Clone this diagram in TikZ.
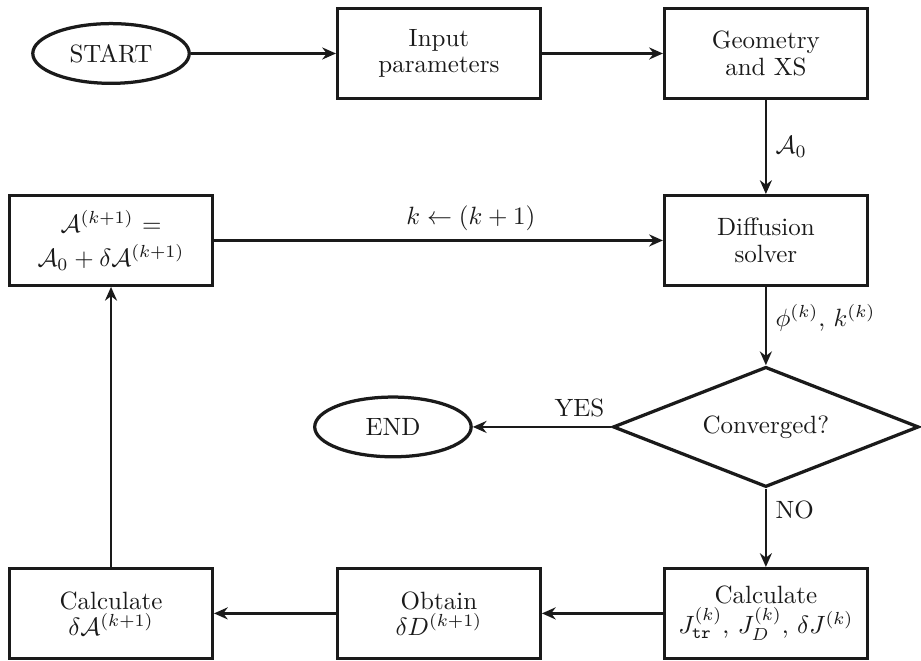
\documentclass[tikz,border=0pt]{standalone}
\usepackage{amsmath,amssymb}
\usepackage{xcolor}
\usepackage{tikz}
\usetikzlibrary{shapes.geometric,arrows.meta}
\definecolor{ink}{HTML}{1A1A1A}
\tikzset{
  block/.style={draw=ink, text=ink, line width=1.3pt, rectangle, minimum width=2.85cm, minimum height=1.26cm, align=center, inner sep=2pt, font=\fontsize{10}{10.5}\selectfont},
  term/.style={draw=ink, text=ink, line width=1.3pt, ellipse, minimum width=2.2cm, minimum height=0.84cm},
  decide/.style={draw=ink, text=ink, line width=1.3pt, diamond, aspect=2.5, minimum width=4.3cm, minimum height=1.69cm, inner sep=0pt},
  flow/.style={draw=ink, line width=1.1pt, -{Stealth[length=5.5pt,width=4.8pt]}},
  lbl/.style={text=ink, font=\normalsize}
}

\begin{document}
\begin{tikzpicture}
  \useasboundingbox (0,0) rectangle (12.95,-9.293);

  % top row
  \node[term] (start) at (1.561,-0.752) {START};
  \node[block] (input) at (6.172,-0.752) {Input\\parameters};
  \node[block] (geom) at (10.769,-0.752) {Geometry\\and XS};

  % iteration loop
  \node[block] (diff) at (10.769,-3.381) {Diffusion\\solver};
  \node[block] (anew) at (1.561,-3.381) {$\mathcal{A}^{(k+1)}$ $=$\\[3pt]$\mathcal{A}_0+\delta\mathcal{A}^{(k+1)}$};
  \node[decide] (conv) at (10.769,-6.003) {Converged?};
  \node[term] (end) at (5.525,-6.003) {END};
  \node[block] (calcj) at (10.769,-8.625) {Calculate\\$J_{\texttt{tr}}^{(k)}$, $J_D^{(k)}$, $\delta J^{(k)}$};
  \node[block] (obtain) at (6.172,-8.625) {Obtain\\$\delta D^{(k+1)}$};
  \node[block] (calca) at (1.561,-8.625) {Calculate\\$\delta\mathcal{A}^{(k+1)}$};

  \draw[flow] (start) -- (input);
  \draw[flow] (input) -- (geom);
  \draw[flow] (geom) -- node[lbl, right] {$\mathcal{A}_0$} (diff);
  \draw[flow] (anew) -- node[lbl, above, pos=0.572] {$k \leftarrow (k+1)$} (diff);
  \draw[flow] (diff) -- node[lbl, right, pos=0.4] {$\phi^{(k)}$, $k^{(k)}$} (conv);
  \draw[flow] (conv) -- node[lbl, above, pos=0.23] {YES} (end);
  \draw[flow] (conv) -- node[lbl, right, pos=0.27] {NO} (calcj);
  \draw[flow] (calcj) -- (obtain);
  \draw[flow] (obtain) -- (calca);
  \draw[flow] (calca) -- (anew);
\end{tikzpicture}
\end{document}
